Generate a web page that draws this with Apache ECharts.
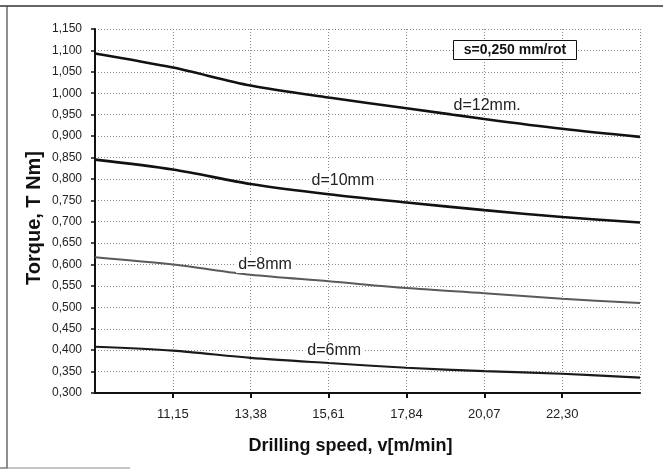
<!DOCTYPE html>
<html>
<head>
<meta charset="utf-8">
<script src="https://cdn.jsdelivr.net/npm/echarts@6/dist/echarts.min.js"></script>
<style>
  html, body { margin: 0; padding: 0; background: #fff; }
  #chart { width: 663px; height: 470px; }
</style>
</head>
<body>
<div id="chart"></div>
<script>
// Drilling speed ticks, v [m/min]
var speeds = [8.92, 11.15, 13.38, 15.61, 17.84, 20.07, 22.30, 24.53];

// Torque T [Nm] for each drill diameter at s = 0,250 mm/rot
var torqueD12 = [1.093, 1.060, 1.018, 0.990, 0.965, 0.940, 0.917, 0.898];
var torqueD10 = [0.845, 0.822, 0.788, 0.764, 0.745, 0.727, 0.711, 0.698];
var torqueD8  = [0.617, 0.600, 0.576, 0.561, 0.545, 0.533, 0.520, 0.510];
var torqueD6  = [0.408, 0.399, 0.382, 0.370, 0.359, 0.351, 0.345, 0.336];

var seriesNames = ['d=12mm.', 'd=10mm', 'd=8mm', 'd=6mm'];
var feedNote = 's=0,250 mm/rot';
var xTitle = 'Drilling speed, v[m/min]';
var yTitle = 'Torque, T Nm]';

function pairs(vals) {
  return vals.map(function (v, i) { return [speeds[i], v]; });
}
function comma(v, digits) {
  return v.toFixed(digits).replace('.', ',');
}

var FONT = '"Liberation Sans", Arial, sans-serif';

function curve(name, vals, color, width, labelAt) {
  return {
    name: name,
    type: 'line',
    data: pairs(vals),
    smooth: 0.3,
    symbol: 'none',
    lineStyle: { color: color, width: width },
    z: 3,
    markPoint: {
      symbol: 'rect',
      symbolSize: 1,
      itemStyle: { color: 'rgba(0,0,0,0)' },
      label: {
        show: true,
        position: 'inside',
        formatter: name,
        color: '#222',
        fontFamily: FONT,
        fontSize: 16,
        backgroundColor: '#fff',
        padding: [0, 2]
      },
      data: [{ coord: labelAt }]
    }
  };
}

var chart = echarts.init(document.getElementById('chart'), null, { renderer: 'canvas' });

chart.setOption({
  backgroundColor: '#fff',
  animation: false,
  grid: { left: 95, right: 23, top: 29, bottom: 77, containLabel: false },
  xAxis: {
    type: 'value',
    min: speeds[0],
    max: speeds[speeds.length - 1],
    interval: 2.23,
    name: xTitle,
    nameLocation: 'middle',
    nameGap: 44,
    nameTextStyle: {
      fontFamily: FONT, fontSize: 18, fontWeight: 'bold', color: '#111',
      padding: [0, 34, 0, 0]
    },
    axisLine: { onZero: false, lineStyle: { color: '#111', width: 2 } },
    axisTick: { show: true, inside: false, length: 5, lineStyle: { color: '#111', width: 2 } },
    axisLabel: {
      showMinLabel: false,
      showMaxLabel: false,
      margin: 15,
      fontFamily: FONT,
      fontSize: 13,
      color: '#222',
      formatter: function (v) { return comma(v, 2); }
    },
    splitLine: { show: true, lineStyle: { color: '#8a8a8a', width: 1, type: [1, 2] } }
  },
  yAxis: {
    type: 'value',
    min: 0.3,
    max: 1.15,
    interval: 0.05,
    axisLine: { show: true, lineStyle: { color: '#111', width: 2 } },
    axisTick: { show: true, length: 4, lineStyle: { color: '#111', width: 1.5 } },
    axisLabel: {
      margin: 13,
      fontFamily: FONT,
      fontSize: 12,
      color: '#222',
      formatter: function (v) { return comma(v, 3); }
    },
    splitLine: { show: true, lineStyle: { color: '#8a8a8a', width: 1, type: [1, 2] } }
  },
  series: [
    curve(seriesNames[0], torqueD12, '#111', 2.6, [20.15, 0.972]),
    curve(seriesNames[1], torqueD10, '#111', 2.6, [16.02, 0.797]),
    curve(seriesNames[2], torqueD8, '#5a5a5a', 2, [13.79, 0.599]),
    curve(seriesNames[3], torqueD6, '#1a1a1a', 2.2, [15.77, 0.398])
  ],
  graphic: [
    // page frame
    {
      type: 'polyline',
      shape: { points: [[0, 6], [663, 6]] },
      style: { stroke: '#333', lineWidth: 1.5, fill: null },
      z: 10
    },
    {
      type: 'polyline',
      shape: { points: [[7, 6], [7, 468], [0, 468]] },
      style: { stroke: '#444', lineWidth: 1.2, fill: null },
      z: 10
    },
    {
      type: 'polyline',
      shape: { points: [[7, 468], [130, 468]] },
      style: { stroke: '#888', lineWidth: 1, fill: null },
      z: 10
    },
    // vertical axis title
    {
      type: 'text',
      x: 34,
      y: 218,
      rotation: Math.PI / 2,
      style: {
        text: yTitle,
        fontFamily: FONT,
        fontSize: 20,
        fontWeight: 'bold',
        fill: '#111',
        align: 'center',
        verticalAlign: 'middle'
      },
      z: 10
    },
    // feed note box
    {
      type: 'rect',
      shape: { x: 453.5, y: 40.5, width: 123, height: 19 },
      style: { fill: '#fff', stroke: '#111', lineWidth: 1 },
      z: 20
    },
    {
      type: 'text',
      x: 515,
      y: 50,
      style: {
        text: feedNote,
        fontFamily: FONT,
        fontSize: 14,
        fontWeight: 'bold',
        fill: '#111',
        align: 'center',
        verticalAlign: 'middle'
      },
      z: 21
    }
  ]
});
</script>
</body>
</html>
